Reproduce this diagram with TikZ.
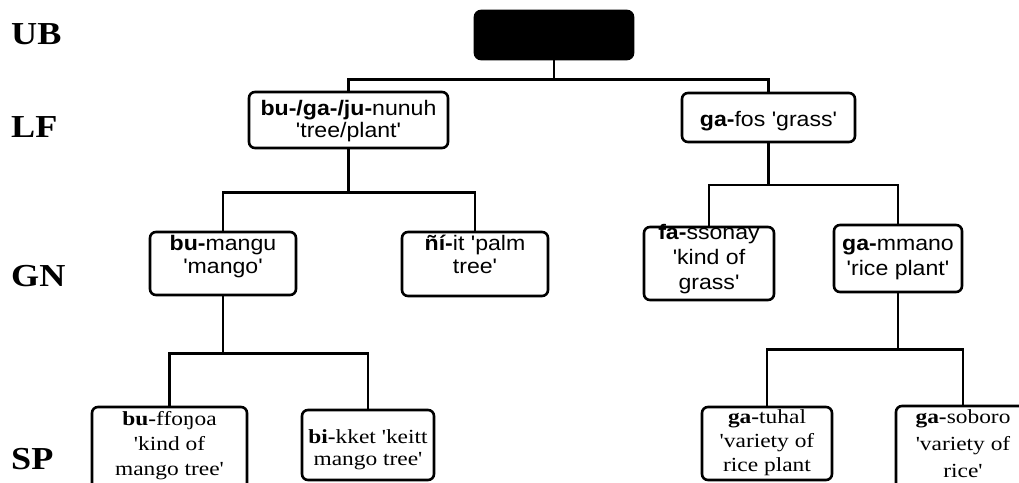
\documentclass[tikz,border=0pt]{standalone}
\usepackage{fontspec}
\newfontfamily\sansf[FakeStretch=1.1,Ligatures=TeXOff]{Liberation Sans}
\newfontfamily\seriff[FakeStretch=1.17,Ligatures=TeXOff]{Liberation Serif}
\newfontfamily\labf[FakeStretch=1.13]{Liberation Serif}
\tikzset{
  box/.style={draw, line width=2.6pt, rounded corners=6pt, align=center, inner sep=0pt, minimum width=#1},
  sbox/.style={box=#1, font=\sansf\fontsize{21}{23}\selectfont},
  tbox/.style={box=#1, font=\seriff\fontsize{20}{24}\selectfont},
  tb/.style 2 args={text height=#1pt, text depth=#2pt},
  conn/.style={line width=2.6pt},
  lvl/.style={anchor=base west, inner sep=0pt, font=\labf\bfseries\fontsize{32}{32}\selectfont}
}
\begin{document}
\begin{tikzpicture}[x=1pt,y=-1pt]
\useasboundingbox (0,0) rectangle (1019,482);
\clip (0,0) rectangle (1019,482);
% level labels
\node[lvl] (ub) at (11,44) {UB};
\node[lvl] (lfl) at (11,137) {LF};
\node[lvl] (gnl) at (11,286) {GN};
\node[lvl] (spl) at (11,469) {SP};
% boxes
\node[box=158, minimum height=48, fill=black] (root) at (554,35) {};
\node[sbox=199, minimum height=56, tb={41}{7}, font=\sansf\fontsize{21}{22}\selectfont] (lf) at (348.5,120) {\bfseries bu-/ga-/ju-\mdseries nunuh\\'tree/plant'};
\node[sbox=173, minimum height=49, tb={32.5}{15.5}] (gafos) at (768.5,117.5) {\bfseries ga-\mdseries fos 'grass'};
\node[sbox=146, minimum height=63, tb={33.5}{14.5}] (bumangu) at (223,263.5) {\bfseries bu-\mdseries mangu\\'mango'};
\node[sbox=146, minimum height=64, tb={33}{15}] (niit) at (475,264) {\bfseries ñí-\mdseries it 'palm\\tree'};
\node[sbox=130, minimum height=73, tb={52.5}{-4.5}, font=\sansf\fontsize{21}{25}\selectfont] (fassonay) at (709,263.5) {\bfseries fa-\mdseries ssonay\\'kind of\\grass'};
\node[sbox=128, minimum height=67, tb={40.5}{7.5}, font=\sansf\fontsize{21}{25}\selectfont] (gammano) at (898,258.5) {\bfseries ga-\mdseries mmano\\'rice plant'};
\node[tbox=155, minimum height=83, tb={54.5}{-6.5}, font=\seriff\fontsize{20}{25}\selectfont] (buffonoa) at (169.5,448.5) {\bfseries bu-\mdseries ffoŋoa\\'kind of\\mango tree'};
\node[tbox=132, minimum height=70, tb={44}{4}, font=\seriff\fontsize{20}{22}\selectfont] (bikket) at (368,445) {\bfseries bi-\mdseries kket 'keitt\\mango tree'};
\node[tbox=130, minimum height=73, tb={55.5}{-7.5}] (gatuhal) at (767,443.5) {\bfseries ga-\mdseries tuhal\\'variety of\\rice plant};
\node[tbox=134, minimum height=84, tb={58}{-10}, font=\seriff\fontsize{20}{27}\selectfont] (gasoboro) at (963,448) {\bfseries ga-\mdseries soboro\\'variety of\\rice'};
% connectors
\draw[conn] (root.south) -- ++(0,19) coordinate (j1);
\draw[conn] (lf.north) |- (j1) -| (gafos.north);
\draw[conn] (lf.south) -- ++(0,43) coordinate (j2);
\draw[conn] (bumangu.north) |- (j2) -| (niit.north);
\draw[conn] (gafos.south) -- ++(0,41.5) coordinate (j3);
\draw[conn] (fassonay.north) |- (j3) -| (gammano.north);
\draw[conn] (bumangu.south) -- ++(0,57) coordinate (j4);
\draw[conn] (buffonoa.north) |- (j4) -| (bikket.north);
\draw[conn] (gammano.south) -- ++(0,56) coordinate (j5);
\draw[conn] (gatuhal.north) |- (j5) -| (gasoboro.north);
\end{tikzpicture}
\end{document}
